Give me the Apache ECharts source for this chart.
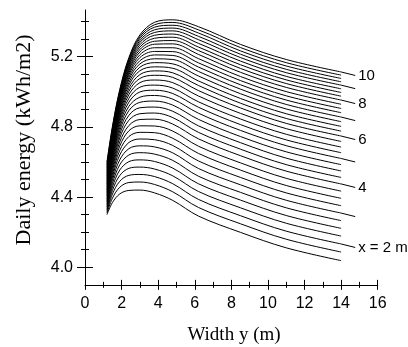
<!DOCTYPE html>
<html><head><meta charset="utf-8">
<script src="https://cdn.jsdelivr.net/npm/echarts@6/dist/echarts.min.js"></script>
<style>html,body{margin:0;padding:0;background:#fff}#c{width:408px;height:347px}</style>
</head><body><div id="c"></div>
<script>
// Width y (m) sample positions shared by every curve
const widthSamples = [1.2, 1.5, 1.9, 2.4, 3.0, 3.8, 4.8, 6.2, 8.5, 11, 14];
// depth x (m) of each curve
const depths = [1.5,1.75,2,2.25,2.5,2.75,3,3.25,3.5,3.75,4,4.25,4.5,4.75,5,5.25,5.5,5.75,6,6.25,6.5,6.75,7,7.25,7.5,7.75,8,8.25,8.5,8.75,9,9.25,9.5,9.75,10];
// daily energy (kWh/m2) for each depth, read at widthSamples
const d150 = [4.300, 4.369, 4.418, 4.438, 4.440, 4.424, 4.381, 4.292, 4.199, 4.111, 4.038];
const d175 = [4.309, 4.394, 4.456, 4.483, 4.486, 4.472, 4.430, 4.341, 4.248, 4.160, 4.087];
const d200 = [4.318, 4.417, 4.490, 4.524, 4.529, 4.517, 4.476, 4.387, 4.294, 4.206, 4.133];
const d225 = [4.326, 4.438, 4.523, 4.564, 4.571, 4.560, 4.521, 4.432, 4.339, 4.251, 4.178];
const d250 = [4.335, 4.458, 4.554, 4.602, 4.612, 4.603, 4.565, 4.476, 4.383, 4.295, 4.222];
const d275 = [4.344, 4.477, 4.584, 4.640, 4.653, 4.645, 4.609, 4.519, 4.427, 4.339, 4.266];
const d300 = [4.353, 4.496, 4.612, 4.676, 4.692, 4.686, 4.652, 4.563, 4.470, 4.382, 4.309];
const d325 = [4.362, 4.514, 4.640, 4.711, 4.731, 4.727, 4.694, 4.606, 4.512, 4.424, 4.351];
const d350 = [4.371, 4.531, 4.666, 4.745, 4.769, 4.767, 4.735, 4.649, 4.554, 4.466, 4.393];
const d375 = [4.379, 4.548, 4.691, 4.778, 4.806, 4.805, 4.776, 4.690, 4.595, 4.507, 4.434];
const d400 = [4.388, 4.564, 4.714, 4.808, 4.842, 4.844, 4.816, 4.732, 4.636, 4.548, 4.475];
const d425 = [4.397, 4.578, 4.737, 4.838, 4.875, 4.879, 4.853, 4.769, 4.673, 4.585, 4.512];
const d450 = [4.406, 4.593, 4.758, 4.866, 4.909, 4.913, 4.889, 4.806, 4.710, 4.622, 4.549];
const d475 = [4.415, 4.607, 4.778, 4.893, 4.940, 4.947, 4.924, 4.843, 4.745, 4.658, 4.585];
const d500 = [4.424, 4.620, 4.797, 4.917, 4.969, 4.979, 4.958, 4.878, 4.780, 4.693, 4.620];
const d525 = [4.432, 4.632, 4.814, 4.941, 4.999, 5.009, 4.990, 4.912, 4.813, 4.726, 4.653];
const d550 = [4.441, 4.644, 4.831, 4.963, 5.026, 5.038, 5.021, 4.943, 4.845, 4.758, 4.685];
const d575 = [4.450, 4.655, 4.846, 4.984, 5.052, 5.067, 5.052, 4.976, 4.877, 4.790, 4.717];
const d600 = [4.459, 4.665, 4.860, 5.003, 5.076, 5.094, 5.082, 5.007, 4.908, 4.820, 4.748];
const d625 = [4.468, 4.674, 4.873, 5.020, 5.098, 5.119, 5.108, 5.036, 4.935, 4.848, 4.776];
const d650 = [4.476, 4.684, 4.886, 5.038, 5.120, 5.142, 5.134, 5.062, 4.962, 4.875, 4.803];
const d675 = [4.485, 4.694, 4.898, 5.053, 5.140, 5.166, 5.159, 5.090, 4.989, 4.902, 4.830];
const d700 = [4.494, 4.703, 4.909, 5.069, 5.159, 5.188, 5.184, 5.116, 5.015, 4.928, 4.856];
const d725 = [4.503, 4.713, 4.920, 5.082, 5.177, 5.210, 5.207, 5.141, 5.040, 4.953, 4.881];
const d750 = [4.512, 4.722, 4.931, 5.096, 5.195, 5.230, 5.229, 5.165, 5.064, 4.977, 4.905];
const d775 = [4.521, 4.732, 4.941, 5.108, 5.211, 5.251, 5.251, 5.189, 5.087, 5.001, 4.929];
const d800 = [4.529, 4.740, 4.949, 5.120, 5.227, 5.271, 5.273, 5.213, 5.111, 5.025, 4.953];
const d825 = [4.538, 4.748, 4.957, 5.130, 5.241, 5.288, 5.292, 5.235, 5.133, 5.047, 4.975];
const d850 = [4.547, 4.756, 4.965, 5.141, 5.255, 5.305, 5.311, 5.255, 5.154, 5.068, 4.996];
const d875 = [4.556, 4.764, 4.973, 5.152, 5.268, 5.322, 5.329, 5.276, 5.175, 5.088, 5.017];
const d900 = [4.565, 4.772, 4.981, 5.162, 5.281, 5.338, 5.347, 5.297, 5.195, 5.109, 5.038];
const d925 = [4.574, 4.779, 4.989, 5.170, 5.292, 5.353, 5.363, 5.316, 5.214, 5.128, 5.057];
const d950 = [4.582, 4.787, 4.997, 5.179, 5.304, 5.368, 5.379, 5.335, 5.233, 5.147, 5.076];
const d975 = [4.591, 4.795, 5.005, 5.187, 5.314, 5.382, 5.395, 5.353, 5.252, 5.166, 5.095];
const d1000 = [4.600, 4.803, 5.013, 5.195, 5.324, 5.396, 5.410, 5.371, 5.270, 5.184, 5.113];
const curves = [d150,d175,d200,d225,d250,d275,d300,d325,d350,d375,d400,d425,d450,d475,d500,d525,d550,d575,d600,d625,d650,d675,d700,d725,d750,d775,d800,d825,d850,d875,d900,d925,d950,d975,d1000];

// depths that get a leader line, and their label text
const leaderDepths = [2, 3, 4, 5, 6, 7, 8, 9, 10];
const leaderTexts = ['x = 2 m', '', '4', '', '6', '', '8', '', '10'];

// axis ticks
const xMajorTicks = [0, 2, 4, 6, 8, 10, 12, 14, 16];
const xMinorTicks = [1, 3, 5, 7, 9, 11, 13, 15];
const yMajorTicks = [4.0, 4.4, 4.8, 5.2];
const yMinorTicks = [4.1, 4.2, 4.3, 4.5, 4.6, 4.7, 4.9, 5.0, 5.1, 5.3, 5.4];

const AX = { xMin: 0, xMax: 16, yMin: 3.9, yMax: 5.466 };
const sansFont = '"Liberation Sans", Arial, sans-serif';
const serifFont = '"Liberation Serif", "Times New Roman", serif';

const chart = echarts.init(document.getElementById('c'), null, { renderer: 'canvas' });

function tickAxisX(values, offset, len) {
  return {
    type: 'value', min: AX.xMin, max: AX.xMax, position: 'bottom', offset: offset,
    axisLine: { show: false, onZero: false },
    axisLabel: { show: false },
    splitLine: { show: false },
    axisTick: { show: true, inside: true, length: len, customValues: values, lineStyle: { color: '#000', width: 1 } }
  };
}
function tickAxisY(values, offset, len) {
  return {
    type: 'value', min: AX.yMin, max: AX.yMax, position: 'left', offset: offset,
    axisLine: { show: false, onZero: false },
    axisLabel: { show: false },
    splitLine: { show: false },
    axisTick: { show: true, inside: true, length: len, customValues: values, lineStyle: { color: '#000', width: 1 } }
  };
}

const series = [];
curves.forEach((vals, i) => {
  series.push({
    type: 'line', name: 'x=' + depths[i], xAxisIndex: 0, yAxisIndex: 0,
    data: widthSamples.map((w, k) => [w, vals[k]]),
    showSymbol: false, smooth: 0.35, silent: true,
    lineStyle: { color: '#000', width: 1 }, z: 3
  });
});
leaderDepths.forEach((dp, j) => {
  const vals = curves[depths.indexOf(dp)];
  const endW = widthSamples[widthSamples.length - 1];
  const endV = vals[vals.length - 1];
  const txt = leaderTexts[j];
  series.push({
    type: 'line', xAxisIndex: 0, yAxisIndex: 0,
    data: [[endW, endV], [endW + 0.77, endV - 0.02]],
    showSymbol: false, silent: true, clip: false,
    lineStyle: { color: '#000', width: 1 }, z: 3,
    endLabel: {
      show: txt !== '', formatter: () => txt, distance: 3,
      color: '#000', fontFamily: sansFont, fontSize: 15, align: 'left', verticalAlign: 'middle'
    }
  });
});

chart.setOption({
  animation: false,
  backgroundColor: '#fff',
  grid: { left: 85, right: 30.3, top: 10, bottom: 62.15, outerBoundsMode: 'none', containLabel: false },
  xAxis: [
    {
      type: 'value', min: AX.xMin, max: AX.xMax, interval: 2, position: 'bottom',
      axisLine: { show: true, onZero: false, lineStyle: { color: '#000', width: 1 } },
      axisTick: { show: false },
      axisLabel: { color: '#000', fontFamily: sansFont, fontSize: 16, margin: 11, customValues: xMajorTicks },
      splitLine: { show: false }
    },
    tickAxisX(xMajorTicks, 5, 10),
    tickAxisX(xMinorTicks, 3, 6)
  ],
  yAxis: [
    {
      type: 'value', min: AX.yMin, max: AX.yMax, position: 'left',
      axisLine: { show: true, onZero: false, lineStyle: { color: '#000', width: 1 } },
      axisTick: { show: false },
      axisLabel: { color: '#000', fontFamily: sansFont, fontSize: 16, margin: 12, customValues: yMajorTicks,
        formatter: v => v.toFixed(1) },
      splitLine: { show: false }
    },
    tickAxisY(yMajorTicks, 8, 16),
    tickAxisY(yMinorTicks, 4, 8)
  ],
  graphic: [
    { type: 'text', x: 24, y: 140, rotation: Math.PI / 2, silent: true,
      style: { text: 'Daily energy (kWh/m2)', font: '22px ' + serifFont, fill: '#000', align: 'center', verticalAlign: 'middle' } },
    { type: 'text', x: 234, y: 335, silent: true,
      style: { text: 'Width y (m)', font: '19px ' + serifFont, fill: '#000', align: 'center', verticalAlign: 'middle' } }
  ],
  series: series
});
</script>
</body></html>
